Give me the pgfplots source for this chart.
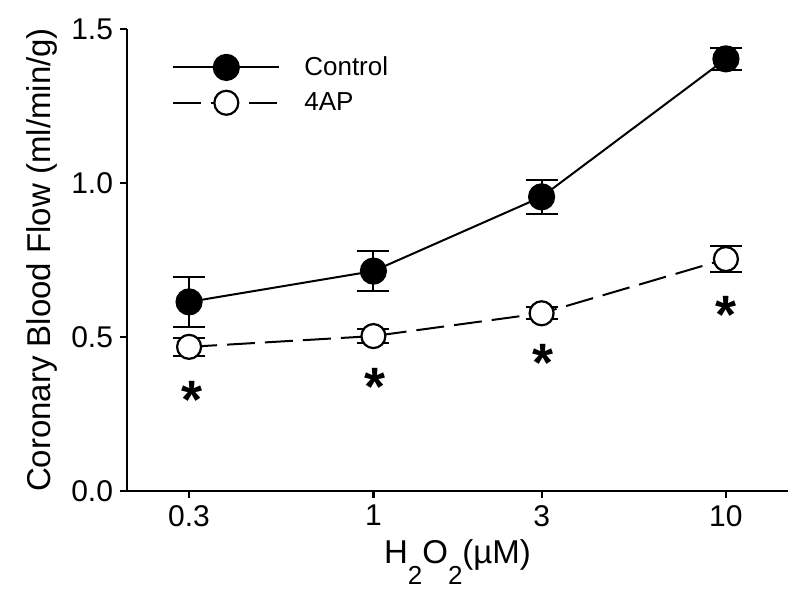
\documentclass[border=0pt]{standalone}
\usepackage{fontspec}
\setmainfont{Liberation Sans}
\usepackage{pgfplots}
\pgfplotsset{compat=1.18}
% subscript set low, as in the original figure
\newcommand{\lowsub}[1]{\raisebox{-10.5pt}{\fontsize{13}{13}\selectfont #1}}

\begin{document}
\begin{tikzpicture}
\useasboundingbox (-63.5pt,-54pt) rectangle (336.5pt,245.5pt);
\begin{axis}[
    scale only axis,
    width=330.5pt, height=231pt,
    xmode=log, xmin=0.2, xmax=15,
    ymin=0, ymax=1.5,
    axis lines=left,
    axis line style={-, line width=1.3pt},
    tick align=outside,
    major tick length=3.5pt,
    tick style={line width=1.1pt, black},
    xminorticks=false,
    xtick={0.3,1,3,10}, xticklabels={0.3,1,3,10},
    ytick={0,0.5,1,1.5}, yticklabels={0.0,0.5,1.0,1.5},
    ticklabel style={font=\fontsize{15}{15}\selectfont},
    label style={font=\fontsize{16.5}{16.5}\selectfont},
    xlabel={H\lowsub{2}O\lowsub{2}(µM)},
    ylabel={Coronary Blood Flow (ml/min/g)},
    legend style={draw=none, fill=none, at={(0.068,0.95)}, anchor=north west,
        font=\fontsize{13}{13}\selectfont, row sep=3pt, column sep=10pt, inner sep=0pt},
    legend cell align=left,
    legend image code/.code={
        \draw[mark repeat=2, mark phase=2] plot coordinates {(0pt,0pt)(26.5pt,0pt)(53pt,0pt)};
    },
    error bars/error bar style={line width=1pt, solid},
    error bars/error mark options={rotate=90, mark size=8pt, line width=1pt, solid},
]
% Control
\addplot[black, line width=1pt, mark=*, mark size=6.3pt, mark options={fill=black},
    error bars/.cd, y dir=both, y explicit]
    coordinates {
    (0.3,0.614) +- (0,0.08)
    (1,0.714)   +- (0,0.065)
    (3,0.955)   +- (0,0.055)
    (10,1.403)  +- (0,0.035)
};
\addlegendentry{Control}
% 4AP
\addplot[black, line width=1pt, dash pattern=on 14pt off 5pt, mark=*, mark size=6pt,
    mark options={solid, fill=white, line width=1.1pt},
    error bars/.cd, y dir=both, y explicit]
    coordinates {
    (0.3,0.468) +- (0,0.03)
    (1,0.503)   +- (0,0.023)
    (3,0.577)   +- (0,0.02)
    (10,0.753)  +- (0,0.043)
};
\addlegendentry{4AP}
% significance marks
\addplot[only marks, mark=text,
    text mark={\fontsize{27}{27}\selectfont\bfseries\smash{\raisebox{-0.56em}{*}}}]
    coordinates {(0.305,0.335) (1.01,0.376) (3.03,0.455) (10,0.61)};
\end{axis}
\end{tikzpicture}
\end{document}
